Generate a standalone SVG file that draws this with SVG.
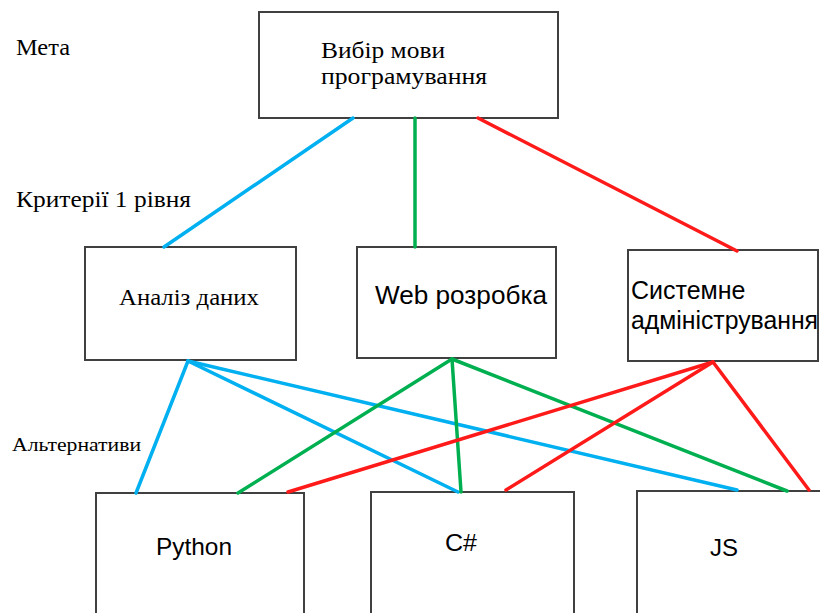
<svg xmlns="http://www.w3.org/2000/svg" width="820" height="613" viewBox="0 0 820 613">
<style>
.box{fill:#fff;stroke:#404040;stroke-width:2}
.serif{font-family:"Liberation Serif","Times New Roman",serif;fill:#000}
.sans{font-family:"Liberation Sans",Arial,sans-serif;fill:#000}
.b{stroke:#00B0F0;stroke-width:3.5;fill:none;stroke-linecap:round}
.g{stroke:#00B050;stroke-width:3.5;fill:none;stroke-linecap:round}
.r{stroke:#FF1A1A;stroke-width:3.5;fill:none;stroke-linecap:round}
</style>
<rect width="820" height="613" fill="#fff"/>
<g id="labels">
<text class="serif" x="16" y="55" font-size="23" textLength="54" lengthAdjust="spacingAndGlyphs">Мета</text>
<text class="serif" x="16" y="207" font-size="23" textLength="175" lengthAdjust="spacingAndGlyphs">Критерії 1 рівня</text>
<text class="serif" x="12" y="451" font-size="19" textLength="129" lengthAdjust="spacingAndGlyphs">Альтернативи</text>
</g>
<g id="node-goal">
<rect class="box" x="259" y="12" width="299" height="106"/>
<text class="serif" x="321" y="58" font-size="24" textLength="124" lengthAdjust="spacingAndGlyphs">Вибір мови</text>
<text class="serif" x="321" y="84" font-size="24" textLength="166" lengthAdjust="spacingAndGlyphs">програмування</text>
</g>
<g id="node-data">
<rect class="box" x="85" y="247" width="211" height="113"/>
<text class="serif" x="119" y="305" font-size="23" textLength="140" lengthAdjust="spacingAndGlyphs">Аналіз даних</text>
</g>
<g id="node-web">
<rect class="box" x="357" y="247" width="199" height="111"/>
<text class="sans" x="375" y="304" font-size="25" textLength="172" lengthAdjust="spacingAndGlyphs">Web розробка</text>
</g>
<g id="node-sys">
<rect class="box" x="628" y="250" width="190" height="111"/>
<text class="sans" x="631" y="299" font-size="25">Системне</text>
<text class="sans" x="631" y="329" font-size="25" textLength="187" lengthAdjust="spacingAndGlyphs">адміністрування</text>
</g>
<g id="node-python">
<rect class="box" x="96" y="493" width="208" height="130"/>
<text class="sans" x="156" y="555" font-size="24" textLength="76" lengthAdjust="spacingAndGlyphs">Python</text>
</g>
<g id="node-csharp">
<rect class="box" x="371" y="492" width="203" height="131"/>
<text class="sans" x="445" y="551" font-size="24" textLength="32" lengthAdjust="spacingAndGlyphs">C#</text>
</g>
<g id="node-js">
<rect class="box" x="637" y="491" width="190" height="132"/>
<text class="sans" x="710" y="556" font-size="24">JS</text>
</g>
<g id="connectors">
<line class="b" x1="353" y1="118" x2="164" y2="247"/>
<line class="g" x1="415" y1="118" x2="415" y2="247"/>
<line class="r" x1="478" y1="118" x2="737" y2="251"/>
<line class="b" x1="188" y1="361" x2="136" y2="493"/>
<line class="b" x1="188" y1="361" x2="458" y2="492"/>
<line class="b" x1="188" y1="361" x2="737" y2="490"/>
<line class="g" x1="452" y1="359" x2="238" y2="493"/>
<line class="g" x1="452" y1="359" x2="461" y2="492"/>
<line class="g" x1="452" y1="359" x2="787" y2="491"/>
<line class="r" x1="713" y1="362" x2="288" y2="492"/>
<line class="r" x1="713" y1="362" x2="506" y2="490"/>
<line class="r" x1="713" y1="362" x2="809" y2="490"/>
</g>
</svg>
